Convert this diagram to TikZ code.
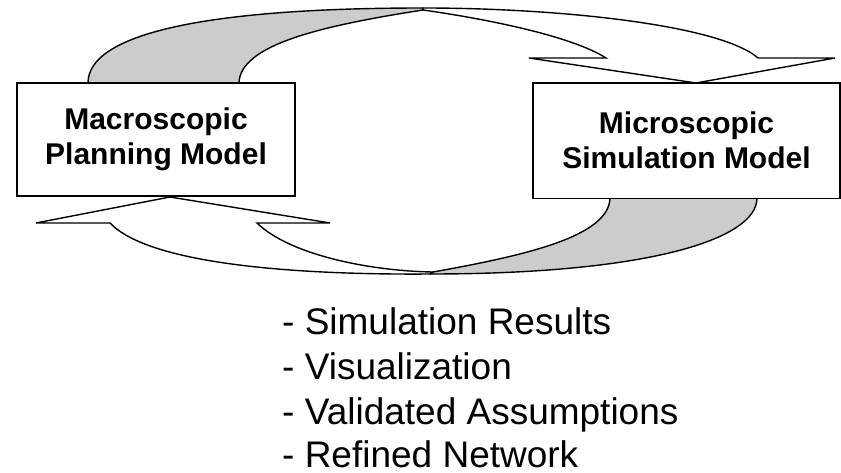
\documentclass[tikz,border=0pt]{standalone}
\usepackage{fontspec}
\setmainfont{Liberation Sans}
\definecolor{ribbongrey}{RGB}{204,204,204}
\tikzset{
  modelbox/.style={draw, line width=1.8pt, fill=white, inner sep=0pt, align=center,
    font=\bfseries\fontsize{30}{35}\selectfont},
  ribbonback/.style={draw, line width=1.4pt, fill=ribbongrey, line join=round},
  ribbonfront/.style={draw, line width=1.4pt, fill=white, line join=miter},
  listitem/.style={anchor=base west, inner sep=0pt, font=\fontsize{37}{45}\selectfont},
}
\begin{document}
\begin{tikzpicture}[x=1pt, y=-1pt]
\useasboundingbox (0,0) rectangle (841,473);

% upper curved arrow: grey back face rising from the planning model
\path[ribbonback] (88,83) .. controls (88,35) and (200,8) .. (423,8)
  -- (423,10) .. controls (320,26) and (240,45) .. (239,83) -- cycle;
% upper curved arrow: white front face ending in a head on the simulation model
\path[ribbonfront] (423,8) .. controls (560,8) and (720,25) .. (758,58)
  -- (835,58) -- (696,83) -- (529,58) -- (606,58)
  .. controls (570,35) and (480,18) .. (423,10) -- cycle;

% lower curved arrow: grey back face dropping from the simulation model
\path[ribbonback] (757,198) .. controls (757,240) and (645,274) .. (430,274)
  -- (433,272) .. controls (528,255) and (609,236) .. (610,198) -- cycle;
% lower curved arrow: white front face ending in a head under the planning model
\path[ribbonfront] (430,274) .. controls (300,275) and (150,265) .. (110,223)
  -- (36,223) -- (170,197) -- (330,223) -- (257,223)
  .. controls (290,255) and (370,271) .. (433,272) -- cycle;

% the two models
\node[modelbox, minimum width=278pt, minimum height=113pt] (macro) at (156,139.5)
  {Macroscopic\\Planning Model};
\node[modelbox, minimum width=307pt, minimum height=115.5pt] (micro) at (686.5,140.75)
  {Microscopic\\Simulation Model};

% outputs of the simulation
\node[listitem] (out1) at (282,334) {- Simulation Results};
\node[listitem] (out2) at (282,379) {- Visualization};
\node[listitem] (out3) at (282,424) {- Validated Assumptions};
\node[listitem] (out4) at (282,467) {- Refined Network};
\end{tikzpicture}
\end{document}
